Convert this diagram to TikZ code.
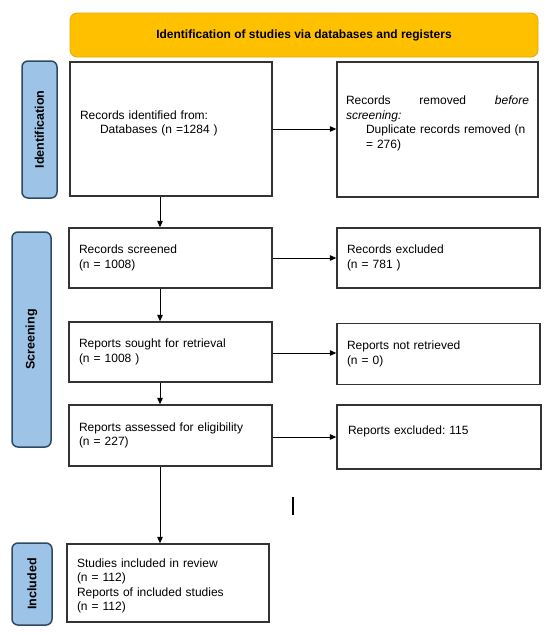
\documentclass[tikz,border=0pt]{standalone}
\usepackage{fontspec}
\setmainfont{Liberation Sans}
\usetikzlibrary{arrows.meta}
\definecolor{bannerfill}{HTML}{FFC000}
\definecolor{bannerdraw}{HTML}{E3A900}
\definecolor{sidefill}{HTML}{9DC3E6}
\definecolor{sidedraw}{HTML}{2E4A62}
\definecolor{boxdraw}{HTML}{333333}
\tikzset{
  banner/.style={draw=bannerdraw, fill=bannerfill, rounded corners=7pt, line width=0.8pt,
    font=\fontsize{12}{14}\selectfont\bfseries, inner sep=0pt},
  sidelab/.style={draw=sidedraw, fill=sidefill, rounded corners=6pt, line width=1.5pt,
    rotate=90, font=\fontsize{12.5}{14}\selectfont\bfseries, inner sep=0pt},
  flowbox/.style={draw=boxdraw, line width=1.3pt, fill=white, inner ysep=0pt, inner xsep=10pt,
    align=left, font=\fontsize{12}{14.5}\selectfont\frenchspacing},
  arr/.style={-{Triangle[length=6.5pt,width=5.5pt]}, line width=1pt, draw=black},
}
\newcommand{\ind}{\hspace*{20pt}}
\begin{document}
\begin{tikzpicture}[x=1pt,y=-1pt]
\useasboundingbox (0,0) rectangle (550,635);
\fill[white] (0,0) rectangle (550,635);

\node[banner, minimum width=468pt, minimum height=44pt] (ban) at (304,35)
  {Identification of studies via databases and registers};

\node[sidelab, minimum width=137pt, minimum height=35pt] (idlab) at (39.5,129.5) {Identification};
\node[sidelab, minimum width=215pt, minimum height=39pt] (scrlab) at (31.5,339.5) {Screening};
\node[sidelab, minimum width=82pt, minimum height=40pt] (inclab) at (32,584) {Included};

\node[flowbox, minimum width=202pt, minimum height=134pt, text width=182pt] (ident) at (171,129)
  {\parbox[c]{182pt}{\baselineskip=13.5pt Records identified from:\\\ind Databases (n =1284 )\par\vspace*{11pt}}};
\node[flowbox, minimum width=201pt, minimum height=135pt, text width=183pt, inner xsep=9pt] (removed) at (437.5,129.5)
  {\parbox[c]{183pt}{\leavevmode\hbox to 183pt{Records\hfill removed\hfill\textit{before}}\\
   \textit{screening:}\\
   \ind Duplicate records removed (n\\
   \ind = 276)\par\vspace*{12pt}}};

\node[flowbox, minimum width=203pt, minimum height=60pt, text width=183pt] (screened) at (170.5,258)
  {Records screened\\(n = 1008)};
\node[flowbox, minimum width=203pt, minimum height=60pt, text width=183pt] (excluded) at (438.5,258)
  {Records excluded\\(n = 781 )};

\node[flowbox, minimum width=203pt, minimum height=60pt, text width=183pt] (sought) at (170.5,352)
  {Reports sought for retrieval\\(n = 1008 )};
\node[flowbox, minimum width=203pt, minimum height=61pt, text width=183pt] (notret) at (438.5,354)
  {Reports not retrieved\\(n = 0)};

\node[flowbox, minimum width=203pt, minimum height=61pt, text width=183pt] (assessed) at (170.5,435.5)
  {Reports assessed for eligibility\\(n = 227)};
\node[flowbox, minimum width=202pt, minimum height=64pt, text width=182pt, inner xsep=11pt] (repexcl) at (439,437)
  {\parbox[c]{180pt}{Reports excluded: 115\par\vspace*{12pt}}};

\node[flowbox, minimum width=202pt, minimum height=78pt, text width=182pt] (included) at (168,583)
  {\parbox[c]{182pt}{\vspace*{6pt}Studies included in review\\(n = 112)\\Reports of included studies\\(n = 112)}};

\coordinate (vx) at (160,0);
\coordinate (bartop) at (293,497);
\coordinate (barbot) at (293,515);

\draw[arr] (ident.east) -- (ident.east -| removed.west);
\draw[arr] (screened.east) -- (screened.east -| excluded.west);
\draw[arr] ([yshift=-1pt]sought.east) -- ([yshift=-1pt]sought.east -| notret.west);
\draw[arr] ([yshift=-1.5pt]assessed.east) -- ([yshift=-1.5pt]assessed.east -| repexcl.west);

\draw[arr] (ident.south -| vx) -- (screened.north -| vx);
\draw[arr] (screened.south -| vx) -- (sought.north -| vx);
\draw[arr] (sought.south -| vx) -- (assessed.north -| vx);
\draw[arr] (assessed.south -| vx) -- (included.north -| vx);

\draw[line width=1.4pt] (bartop) -- (barbot);
\end{tikzpicture}
\end{document}
